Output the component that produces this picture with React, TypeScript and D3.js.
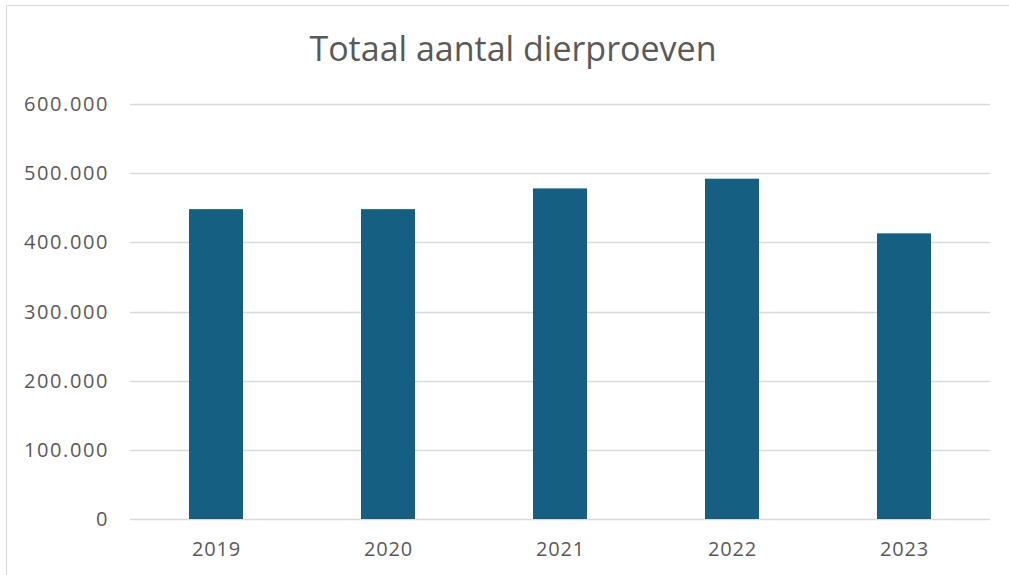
import React from 'react';
import * as d3 from 'd3';

const years = ['2019', '2020', '2021', '2022', '2023'];
const counts = [448000, 448000, 478000, 492000, 413000];
const yTicks = [0, 100000, 200000, 300000, 400000, 500000, 600000];
const title = 'Totaal aantal dierproeven';

const W = 1009;
const H = 575;
const margin = { top: 104, right: 19, bottom: 56, left: 130 };

const fmt = (v: number) => d3.format(',')(v).replace(/,/g, '.');

const App = () => {
  const svgRef = React.useRef<SVGSVGElement>(null);

  React.useEffect(() => {
    const svg = d3.select(svgRef.current);
    svg.selectAll('*').remove();

    const width = W - margin.left - margin.right;
    const height = H - margin.top - margin.bottom;

    // chart frame
    svg.append('rect')
      .attr('x', 6.5).attr('y', 5.5)
      .attr('width', W + 20).attr('height', H + 20)
      .attr('fill', 'white')
      .attr('stroke', '#d9d9d9')
      .attr('stroke-width', 1);

    const g = svg.append('g')
      .attr('transform', `translate(${margin.left},${margin.top})`);

    const x = d3.scaleBand()
      .domain(years)
      .range([0, width])
      .paddingInner(0.686)
      .paddingOuter(0.343);

    const y = d3.scaleLinear()
      .domain([0, 600000])
      .range([height, 0]);

    // gridlines
    g.append('g')
      .selectAll('line')
      .data(yTicks)
      .enter()
      .append('line')
      .attr('x1', 0)
      .attr('x2', width)
      .attr('y1', (d) => Math.round(y(d)) + 0.5)
      .attr('y2', (d) => Math.round(y(d)) + 0.5)
      .attr('stroke', '#d9d9d9')
      .attr('stroke-width', 1.5);

    // y labels
    g.append('g')
      .selectAll('text')
      .data(yTicks)
      .enter()
      .append('text')
      .attr('x', -21)
      .attr('y', (d) => y(d) + 7)
      .attr('text-anchor', 'end')
      .attr('fill', '#595959')
      .style('font-family', 'Open Sans, sans-serif')
      .style('font-size', '20px')
      .style('letter-spacing', '1.6px')
      .text((d) => fmt(d));

    // bars
    g.append('g')
      .selectAll('rect')
      .data(counts)
      .enter()
      .append('rect')
      .attr('x', (d, i) => x(years[i]) as number)
      .attr('y', (d) => y(d))
      .attr('width', x.bandwidth())
      .attr('height', (d) => height - y(d))
      .attr('fill', '#156082');

    // x labels
    g.append('g')
      .selectAll('text')
      .data(years)
      .enter()
      .append('text')
      .attr('x', (d) => (x(d) as number) + x.bandwidth() / 2 + 0.5)
      .attr('y', height + 37)
      .attr('text-anchor', 'middle')
      .attr('fill', '#595959')
      .style('font-family', 'Open Sans, sans-serif')
      .style('font-size', '20px')
      .style('letter-spacing', '0.8px')
      .text((d) => d);

    svg.append('text')
      .attr('x', 513)
      .attr('y', 61)
      .attr('text-anchor', 'middle')
      .attr('fill', '#595959')
      .style('font-family', 'Open Sans, sans-serif')
      .style('font-size', '34px')
      .text(title);
  }, []);

  return (
    <svg
      ref={svgRef}
      width={W}
      height={H}
      style={{ position: 'absolute', left: 0, top: 0, display: 'block' }}
    />
  );
};

export default App;
